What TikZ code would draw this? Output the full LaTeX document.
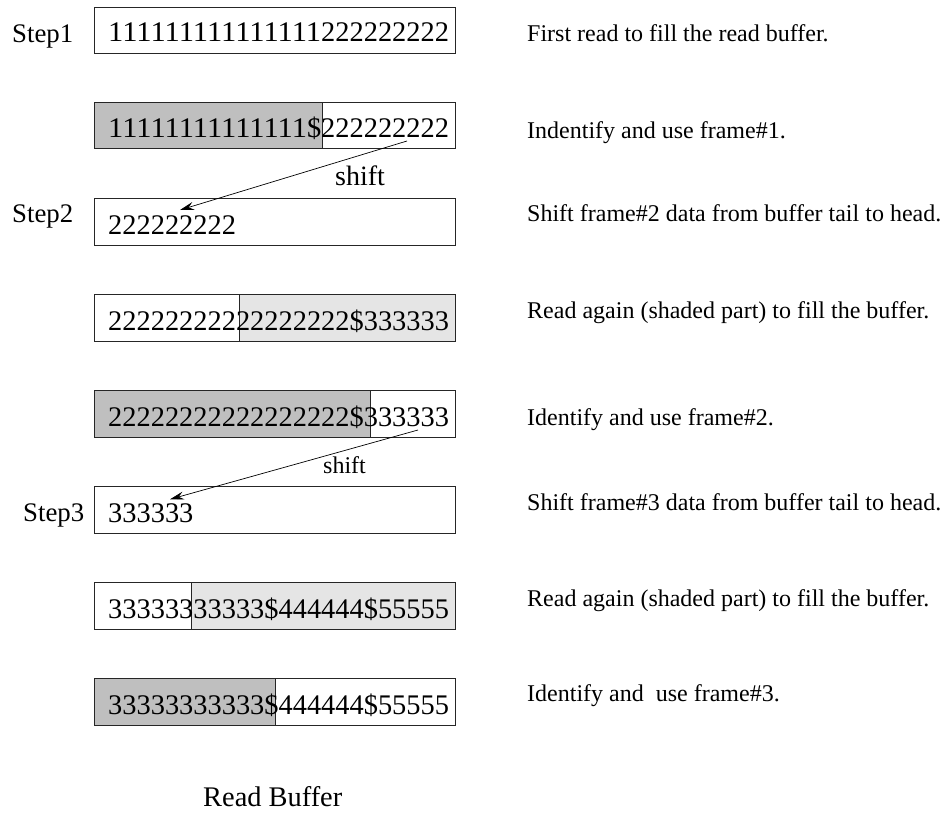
\documentclass[tikz,border=0pt]{standalone}
\usepackage{fontspec}
\usepackage{graphicx}
\setmainfont{Liberation Serif}
\usetikzlibrary{arrows.meta}
\definecolor{darkshade}{gray}{0.75}
\definecolor{lightshade}{gray}{0.9}
\ExplSyntaxOn
\cs_new:Npn \myrep #1#2 { \prg_replicate:nn {#1} {#2} }
\ExplSyntaxOff
% ones stretched to the width of the other digits
\newcommand{\ones}[1]{\resizebox{#1\dimexpr 14.2pt\relax}{\height}{\myrep{#1}{1}}}
\begin{document}
\begin{tikzpicture}[x=1pt,y=-1pt,
  buf/.style={draw=black!85, line width=0.9pt, minimum height=46.7pt, inner sep=0pt, anchor=north west},
  fullbox/.style={buf, minimum width=361pt},
  darkpart/.style={buf, fill=darkshade},
  lightpart/.style={buf, fill=lightshade},
  data/.style={anchor=base west, inner sep=0pt, font=\fontsize{28.4}{30}\selectfont},
  lbl/.style={anchor=base west, inner sep=0pt, font=\fontsize{26.8}{28}\selectfont},
  note/.style={anchor=base west, inner sep=0pt, font=\fontsize{24}{26}\selectfont},
  shiftarrow/.style={-{Stealth[length=14pt,width=8pt,inset=5pt]}, line width=0.7pt}
]
\useasboundingbox (0,0) rectangle (945,814);

% shaded parts
\node[darkpart, minimum width=228pt] (s2) at (94,101.7) {};
\node[lightpart, minimum width=216pt] (s4) at (239,294) {};
\node[darkpart, minimum width=276pt] (s5) at (94,390) {};
\node[lightpart, minimum width=264pt] (s7) at (191,582) {};
\node[darkpart, minimum width=181pt] (s8) at (94,678) {};

% buffer boxes
\node[fullbox] (b1) at (94,6.7) {};
\node[fullbox] (b2) at (94,101.7) {};
\node[fullbox] (b3) at (94,198) {};
\node[fullbox] (b4) at (94,294) {};
\node[fullbox] (b5) at (94,390) {};
\node[fullbox] (b6) at (94,486) {};
\node[fullbox] (b7) at (94,582) {};
\node[fullbox] (b8) at (94,678) {};

% buffer contents
\node[data] (t1) at (108,41.7) {\ones{15}\myrep{9}{2}};
\node[data] (t2) at (108,137) {\ones{14}\$\myrep{9}{2}};
\node[data] (t3) at (108,234.7) {\myrep{9}{2}};
\node[data] (t4) at (108,330) {\myrep{17}{2}\$\myrep{6}{3}};
\node[data] (t5) at (108,426) {\myrep{17}{2}\$\myrep{6}{3}};
\node[data] (t6) at (108,522.7) {\myrep{6}{3}};
\node[data] (t7) at (108,618) {\myrep{11}{3}\$\myrep{6}{4}\$\myrep{5}{5}};
\node[data] (t8) at (108,714) {\myrep{11}{3}\$\myrep{6}{4}\$\myrep{5}{5}};

% step labels
\node[lbl] (st1) at (12,42) {Step1};
\node[lbl] (st2) at (12,222.7) {Step2};
\node[lbl] (st3) at (23,521.7) {Step3};

% shift arrows
\coordinate (a1s) at (407,141);
\coordinate (a1e) at (180,210);
\draw[shiftarrow] (a1s) -- (a1e);
\node[anchor=base west, inner sep=0pt, font=\fontsize{28}{30}\selectfont] (sh1) at (335,185) {shift};

\coordinate (a2s) at (418,430);
\coordinate (a2e) at (170,499.3);
\draw[shiftarrow] (a2s) -- (a2e);
\node[note] (sh2) at (323,473) {shift};

% notes
\node[note] (n1) at (527,41.7) {First read to fill the read buffer.};
\node[note] (n2) at (527,138.3) {Indentify and use frame\#1.};
\node[note] (n3) at (527,221.7) {Shift frame\#2 data from buffer tail to head.};
\node[note] (n4) at (527,318.3) {Read again (shaded part) to fill the buffer.};
\node[note] (n5) at (527,425) {Identify and use frame\#2.};
\node[note] (n6) at (527,510) {Shift frame\#3 data from buffer tail to head.};
\node[note] (n7) at (527,606.7) {Read again (shaded part) to fill the buffer.};
\node[note] (n8) at (527,701.7) {Identify and\ \ use frame\#3.};

% caption
\node[anchor=base west, inner sep=0pt, font=\fontsize{28.4}{30}\selectfont] (cap) at (203,806) {Read Buffer};
\end{tikzpicture}
\end{document}
